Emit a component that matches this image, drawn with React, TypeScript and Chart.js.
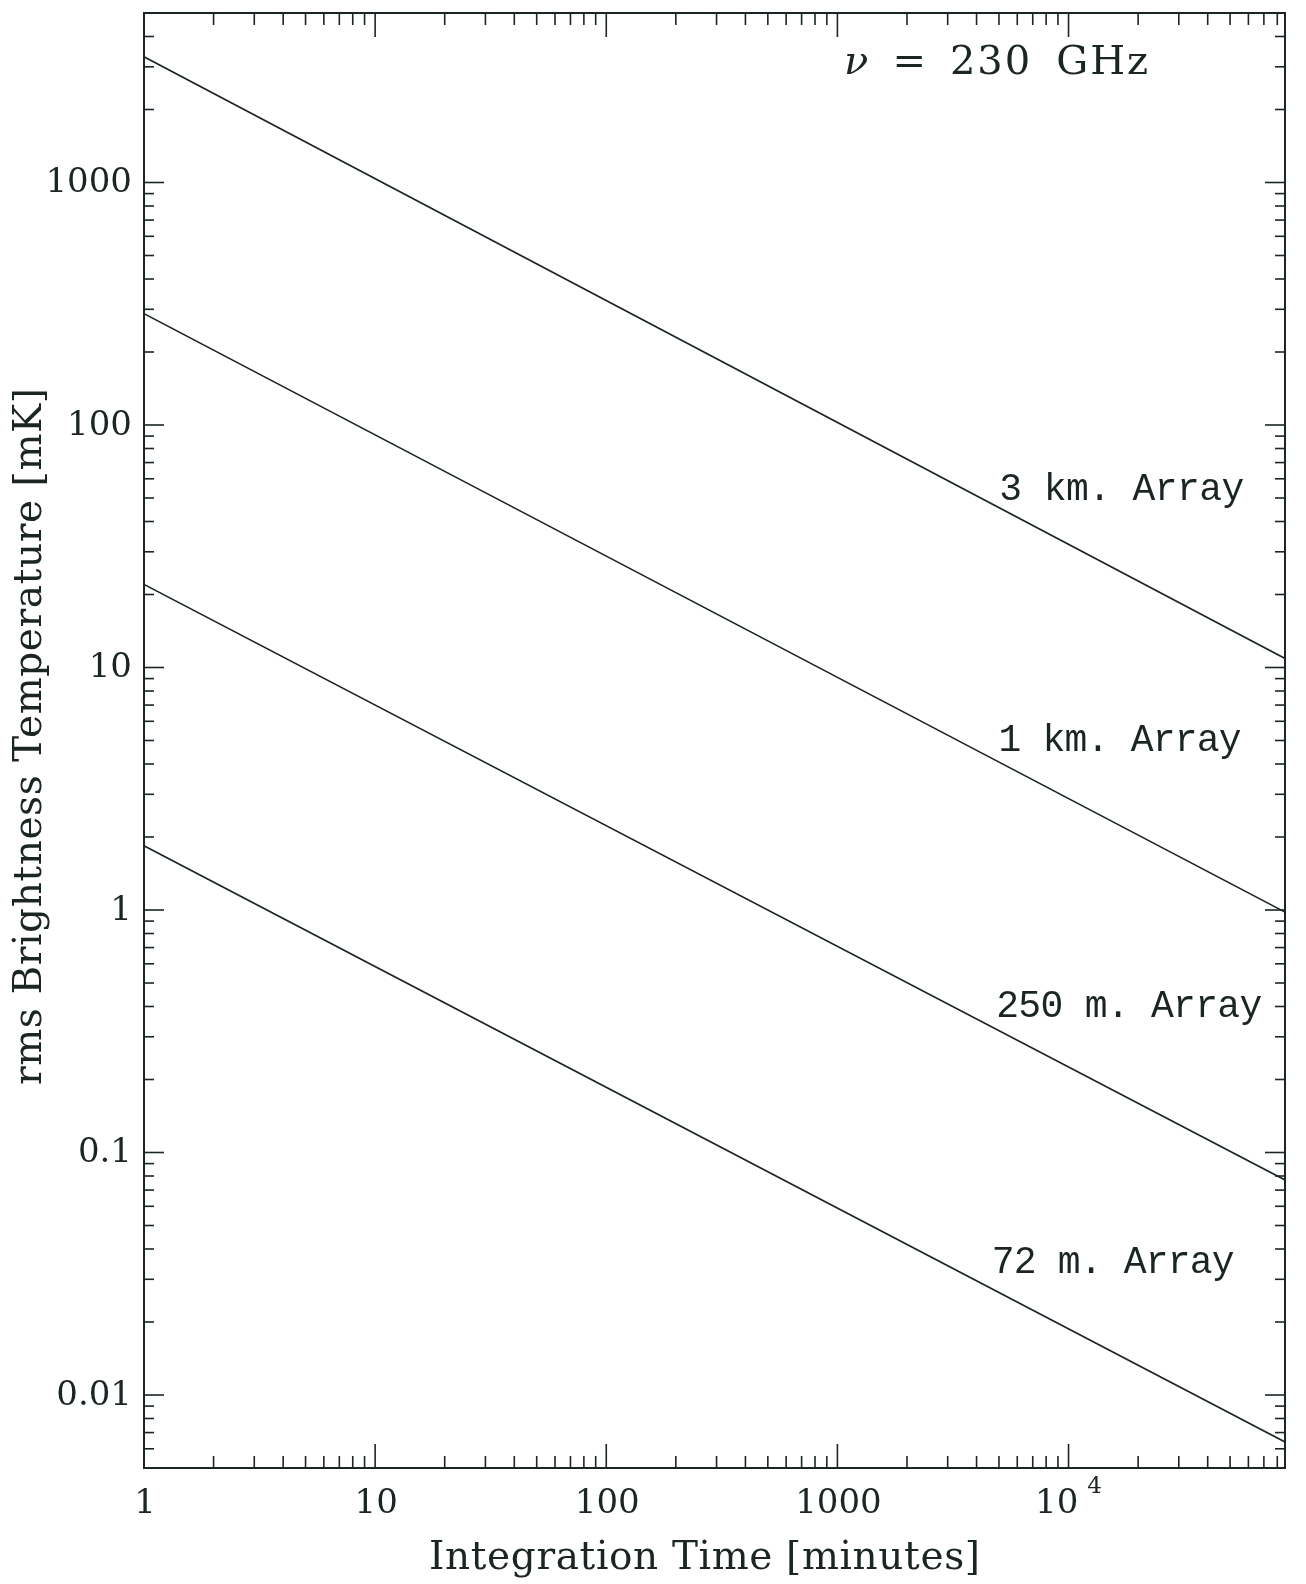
import React, { useEffect, useRef } from 'react';
import { Chart, registerables } from 'chart.js';

Chart.register(...registerables);

// ---- data ----
const times = [1, 86400]; // minutes (1 min .. 60 days)
const series3km = [3300, 10.9];
const series1km = [288, 0.98];
const series250m = [22, 0.077];
const series72m = [1.84, 0.0064];
const seriesNames = ['3 km. Array', '1 km. Array', '250 m. Array', '72 m. Array'];
const labelX = [17000, 16700, 18300, 15600];
const labelY = [54, 5.0, 0.4, 0.035];

const xTickValues = [1, 10, 100, 1000, 10000];
const xTickLabels = ['1', '10', '100', '1000', '10^4'];
const yTickValues = [0.01, 0.1, 1, 10, 100, 1000];
const yTickLabels = ['0.01', '0.1', '1', '10', '100', '1000'];

const xMin = 1;
const xMax = 86400;
const yMin = 0.005;
const yMax = 5000;

const freqParts = ['ν', '=', '230', 'GHz'];
const freqX = 4910;
const freqY = 3080;
const xTitle = 'Integration Time [minutes]';
const yTitle = 'rms Brightness Temperature [mK]';

const INK = '#1c2620';
const SERIF = '"DejaVu Serif"';
const MONO = '"Liberation Mono"';

function drawFitted(ctx: CanvasRenderingContext2D, text: string, cx: number, cy: number, font: string, target: number) {
  ctx.font = font;
  (ctx as any).letterSpacing = '0px';
  const w = ctx.measureText(text).width;
  const n = Array.from(text).length;
  let sp = n > 1 ? (target - w) / (n - 1) : 0;
  if (sp < -2) sp = -2;
  (ctx as any).letterSpacing = sp + 'px';
  const total = w + sp * (n - 1);
  ctx.textAlign = 'left';
  ctx.textBaseline = 'middle';
  ctx.fillText(text, cx - total / 2, cy);
  (ctx as any).letterSpacing = '0px';
}

const framePlugin = {
  id: 'framePlugin',
  afterDraw(chart: any) {
    const ctx: CanvasRenderingContext2D = chart.ctx;
    const ca = chart.chartArea;
    const xs = chart.scales.x;
    const ys = chart.scales.y;
    ctx.save();
    ctx.strokeStyle = INK;
    ctx.fillStyle = INK;

    // frame
    ctx.lineWidth = 2;
    ctx.strokeRect(ca.left, ca.top, ca.right - ca.left, ca.bottom - ca.top);

    // ticks (inward, mirrored on all sides)
    ctx.lineWidth = 1.6;
    const seg = (x1: number, y1: number, x2: number, y2: number) => {
      ctx.beginPath();
      ctx.moveTo(x1, y1);
      ctx.lineTo(x2, y2);
      ctx.stroke();
    };
    for (let d = -3; d <= 5; d++) {
      for (let m = 1; m <= 9; m++) {
        const v = m * Math.pow(10, d);
        if (v >= yMin * 0.999 && v <= yMax * 1.001) {
          const p = ys.getPixelForValue(v);
          const L = m === 1 ? 20 : 10;
          seg(ca.left, p, ca.left + L, p);
          seg(ca.right, p, ca.right - L, p);
        }
        if (v >= xMin * 0.999 && v <= xMax * 1.001) {
          const p = xs.getPixelForValue(v);
          const L = m === 1 ? 24 : 12;
          seg(p, ca.bottom, p, ca.bottom - L);
          seg(p, ca.top, p, ca.top + L);
        }
      }
    }

    const TICKFONT = '34px ' + SERIF;

    // y tick labels
    ctx.font = TICKFONT;
    (ctx as any).letterSpacing = '0px';
    ctx.textAlign = 'right';
    ctx.textBaseline = 'middle';
    yTickValues.forEach((v, i) => {
      ctx.fillText(yTickLabels[i], ca.left - 12, ys.getPixelForValue(v) + 1);
    });

    // x tick labels
    const xLabY = ca.bottom + 36;
    xTickValues.forEach((v, i) => {
      const p = xs.getPixelForValue(v);
      const lab = xTickLabels[i];
      if (lab.includes('^')) {
        const [base, exp] = lab.split('^');
        ctx.font = TICKFONT;
        const wb = ctx.measureText(base).width;
        ctx.font = '23px ' + SERIF;
        const we = ctx.measureText(exp).width;
        const gap = 9;
        const total = wb + gap + we;
        const x0 = p - total / 2;
        ctx.textAlign = 'left';
        ctx.font = TICKFONT;
        ctx.fillText(base, x0, xLabY);
        ctx.font = '23px ' + SERIF;
        ctx.fillText(exp, x0 + wb + gap, xLabY - 17);
      } else {
        ctx.font = TICKFONT;
        ctx.textAlign = 'center';
        ctx.fillText(lab, p + 1, xLabY);
      }
    });

    // axis titles
    drawFitted(ctx, xTitle, (ca.left + ca.right) / 2 - 10, ca.bottom + 91, '39px ' + SERIF, 551);
    ctx.save();
    ctx.translate(31, (ca.top + ca.bottom) / 2 - 4);
    ctx.rotate(-Math.PI / 2);
    drawFitted(ctx, yTitle, 0, 0, '39px ' + SERIF, 697);
    ctx.restore();

    // series labels
    const labelWidths = [245, 243, 266, 243];
    seriesNames.forEach((name, i) => {
      drawFitted(ctx, name, xs.getPixelForValue(labelX[i]), ys.getPixelForValue(labelY[i]), '38px ' + MONO, labelWidths[i]);
    });

    // frequency label
    const fx = xs.getPixelForValue(freqX);
    const fy = ys.getPixelForValue(freqY);
    const fonts = ['italic 40px ' + SERIF, '40px ' + SERIF, '40px ' + SERIF, '40px ' + SERIF];
    const spacings = [0, 0, 2, 2];
    const widths = freqParts.map((t, i) => {
      ctx.font = fonts[i];
      (ctx as any).letterSpacing = spacings[i] + 'px';
      return ctx.measureText(t).width;
    });
    const gapF = 24;
    const totalF = widths.reduce((a, b) => a + b, 0) + gapF * (freqParts.length - 1);
    let cx = fx - totalF / 2;
    ctx.textAlign = 'left';
    ctx.textBaseline = 'middle';
    freqParts.forEach((t, i) => {
      ctx.font = fonts[i];
      (ctx as any).letterSpacing = spacings[i] + 'px';
      ctx.fillText(t, cx, fy);
      cx += widths[i] + gapF;
    });
    (ctx as any).letterSpacing = '0px';
    ctx.restore();
  },
};

export default function App() {
  const canvasRef = useRef<HTMLCanvasElement | null>(null);

  useEffect(() => {
    const canvas = canvasRef.current;
    if (!canvas) return;
    const mk = (vals: number[], name: string) => ({
      label: name,
      data: times.map((t, i) => ({ x: t, y: vals[i] })),
      borderColor: INK,
      borderWidth: 1.6,
      pointRadius: 0,
      fill: false,
      tension: 0,
    });
    const chart = new Chart(canvas, {
      type: 'line',
      data: {
        datasets: [
          mk(series3km, seriesNames[0]),
          mk(series1km, seriesNames[1]),
          mk(series250m, seriesNames[2]),
          mk(series72m, seriesNames[3]),
        ],
      },
      options: {
        responsive: false,
        animation: false,
        devicePixelRatio: 1,
        layout: { padding: { left: 144, right: 21, top: 13, bottom: 116 } },
        plugins: { legend: { display: false }, tooltip: { enabled: false } },
        scales: {
          x: { type: 'logarithmic', min: xMin, max: xMax, display: false },
          y: { type: 'logarithmic', min: yMin, max: yMax, display: false },
        },
      },
      plugins: [framePlugin],
    });
    return () => chart.destroy();
  }, []);

  return (
    <div style={{ position: 'absolute', left: 0, top: 0, width: 1306, height: 1584, background: '#ffffff' }}>
      <canvas ref={canvasRef} width={1306} height={1584} style={{ display: 'block' }} />
    </div>
  );
}
